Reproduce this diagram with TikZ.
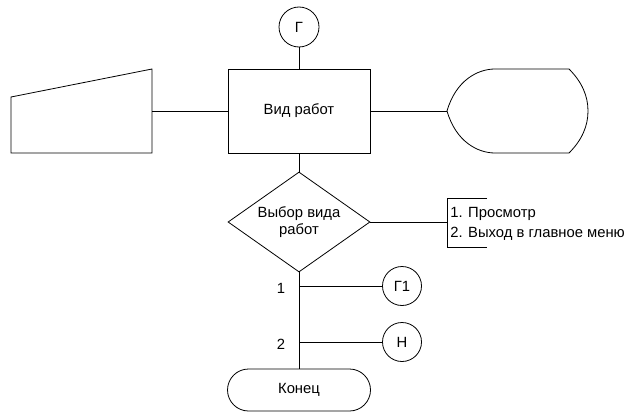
\documentclass[tikz,border=0pt]{standalone}
\usepackage{fontspec}
\setmainfont{Liberation Sans}
\usetikzlibrary{shapes.geometric}
\begin{document}
\begin{tikzpicture}[x=1pt,y=-1pt,
  every path/.style={line width=0.8pt},
  txt/.style={font=\fontsize{14.8}{17}\selectfont},
  lbl/.style={txt, inner sep=0pt},
  conn/.style={draw, circle, minimum size=40pt, inner sep=0pt, txt},
  procbox/.style={draw, rectangle, minimum width=142pt, minimum height=84pt, inner sep=0pt, txt},
  decision/.style={draw, diamond, minimum width=142pt, minimum height=100pt, inner sep=0pt},
  termbox/.style={draw, rectangle, rounded corners=21pt, minimum width=143pt, minimum height=42pt, inner sep=0pt, txt}]
\useasboundingbox (0,0) rectangle (629,412);

% main column
\node[conn] (g) at (299,27) {Г};
\node[procbox] (work) at (299,111) {Вид работ};
\node[decision] (choice) at (299,222) {};
\node[lbl, align=center] (choicetext) at (choice.center) {Выбор вида\\работ};
\node[termbox] (end) at (299,390) {Конец};
\node[conn, minimum size=39pt] (g1) at (402,286) {Г1};
\node[conn, minimum size=39pt] (n) at (402,342) {Н};

% manual input shape on the left
\coordinate (mi) at (152,111);
\draw (11,97) -- (152,69) -- (152,153) -- (11,153) -- cycle;

% display shape on the right
\coordinate (disp) at (447,111);
\draw (447,111) .. controls (456,80) and (478,69) .. (495,69) -- (569,69)
      .. controls (582,82) and (588,96) .. (588,111)
      .. controls (588,126) and (582,140) .. (569,153) -- (495,153)
      .. controls (478,153) and (456,142) .. (447,111) -- cycle;

% annotation bracket
\coordinate (br) at (447,222);
\draw (487,198) -- (447,198) -- (447,247) -- (487,247);
\node[lbl, anchor=west, align=left, font=\fontsize{14.8}{20}\selectfont] (note) at (450,224)
  {1. Просмотр\\2. Выход в главное меню};

% connectors
\draw (g) -- (work);
\draw (mi) -- (work);
\draw (work) -- (disp);
\draw (work) -- (choice);
\draw (choice) -- (br);
\draw (choice) -- (end);
\coordinate (j1) at (299,286);
\coordinate (j2) at (299,342);
\draw (j1) -- (g1);
\draw (j2) -- (n);
\node[lbl] (l1) at (281,288) {1};
\node[lbl] (l2) at (281,344) {2};
\end{tikzpicture}
\end{document}
